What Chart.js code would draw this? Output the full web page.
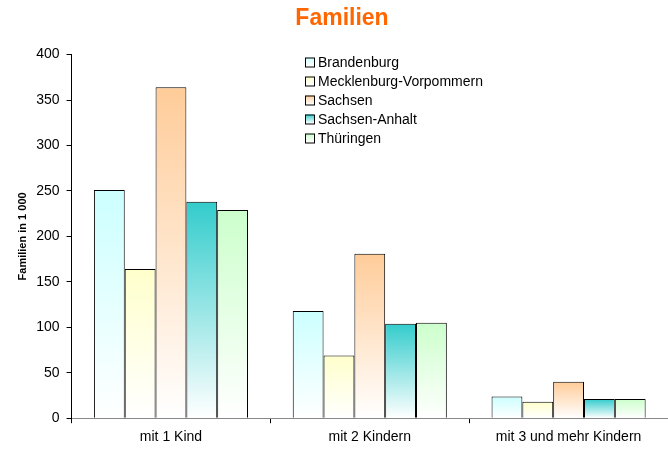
<!DOCTYPE html>
<html>
<head>
<meta charset="utf-8">
<script src="https://cdn.jsdelivr.net/npm/chart.js@4"></script>
<style>
  html, body { margin: 0; padding: 0; background: #fff; }
  #wrap { width: 668px; height: 452px; }
</style>
</head>
<body>
<div id="wrap"><canvas id="chart" width="668" height="452"></canvas></div>
<script>
// Data
const categories = ['mit 1 Kind', 'mit 2 Kindern', 'mit 3 und mehr Kindern'];
const seriesNames = ['Brandenburg', 'Mecklenburg-Vorpommern', 'Sachsen', 'Sachsen-Anhalt', 'Thüringen'];
const brandenburg = [251, 118, 24];
const mecklenburg = [164, 69, 18];
const sachsen = [364, 181, 40];
const sachsenAnhalt = [238, 104, 21];
const thueringen = [229, 105, 21];
const seriesValues = [brandenburg, mecklenburg, sachsen, sachsenAnhalt, thueringen];

// Top colour of each bar gradient (fades to white at the bottom)
const topColors = ['#ccffff', '#ffffcc', '#ffcc99', '#33cccc', '#ccffcc'];
const FONT = 'Arial, "Liberation Sans", sans-serif';

// Vertical gradient from the bar's own top down to its base
function barGradient(i) {
  return function (context) {
    const chart = context.chart;
    const yScale = chart.scales.y;
    if (!chart.chartArea || !yScale || context.raw == null) return topColors[i];
    const top = yScale.getPixelForValue(context.raw);
    const base = yScale.getPixelForValue(0);
    if (!isFinite(top) || !isFinite(base) || top === base) return topColors[i];
    const g = chart.ctx.createLinearGradient(0, top, 0, base);
    g.addColorStop(0, topColors[i]);
    g.addColorStop(1, '#ffffff');
    return g;
  };
}

// Legend drawn as a vertical list inside the plot
const boxLegend = {
  id: 'boxLegend',
  afterDraw(chart) {
    const ctx = chart.ctx;
    const x = 305, y0 = 62, rowH = 19, box = 9;
    ctx.save();
    ctx.font = '14px ' + FONT;
    ctx.textBaseline = 'middle';
    seriesNames.forEach((name, i) => {
      const y = y0 + i * rowH;
      const g = ctx.createLinearGradient(0, y - box / 2, 0, y + box / 2);
      g.addColorStop(0, topColors[i]);
      g.addColorStop(1, '#ffffff');
      ctx.fillStyle = g;
      ctx.fillRect(x, y - box / 2, box, box);
      ctx.strokeStyle = '#000';
      ctx.lineWidth = 1;
      ctx.strokeRect(x + 0.5, y - box / 2 + 0.5, box, box);
      ctx.fillStyle = '#000';
      ctx.fillText(name, x + box + 4, y + 1);
    });
    ctx.restore();
  }
};

const datasets = seriesNames.map((name, i) => ({
  label: name,
  data: seriesValues[i],
  backgroundColor: barGradient(i),
  borderColor: '#000',
  borderWidth: 1,
  categoryPercentage: 0.775,
  barPercentage: 1.0
}));

new Chart(document.getElementById('chart'), {
  type: 'bar',
  data: { labels: categories, datasets: datasets },
  plugins: [boxLegend],
  options: {
    responsive: false,
    animation: false,
    layout: { padding: { left: 16, right: 0, top: 0, bottom: 0 } },
    plugins: {
      legend: { display: false },
      tooltip: { enabled: false },
      title: {
        display: true,
        text: 'Familien',
        color: '#ff6600',
        font: { family: FONT, size: 23, weight: 'bold' },
        padding: { top: 5, bottom: 22 }
      }
    },
    scales: {
      x: {
        grid: { display: true, drawOnChartArea: false, drawTicks: true, tickLength: 5, color: '#000', offset: true },
        border: { display: true, color: '#888', width: 1 },
        ticks: { color: '#000', font: { family: FONT, size: 14 }, padding: 6 }
      },
      y: {
        min: 0,
        max: 400,
        ticks: { stepSize: 50, color: '#000', font: { family: FONT, size: 14 }, padding: 7 },
        grid: { display: true, drawOnChartArea: false, drawTicks: true, tickLength: 5, color: '#000' },
        border: { display: true, color: '#000', width: 1 },
        title: {
          display: true,
          text: 'Familien in 1 000',
          color: '#000',
          font: { family: FONT, size: 11, weight: 'bold' },
          padding: { top: 0, bottom: 0 }
        }
      }
    }
  }
});
</script>
</body>
</html>
